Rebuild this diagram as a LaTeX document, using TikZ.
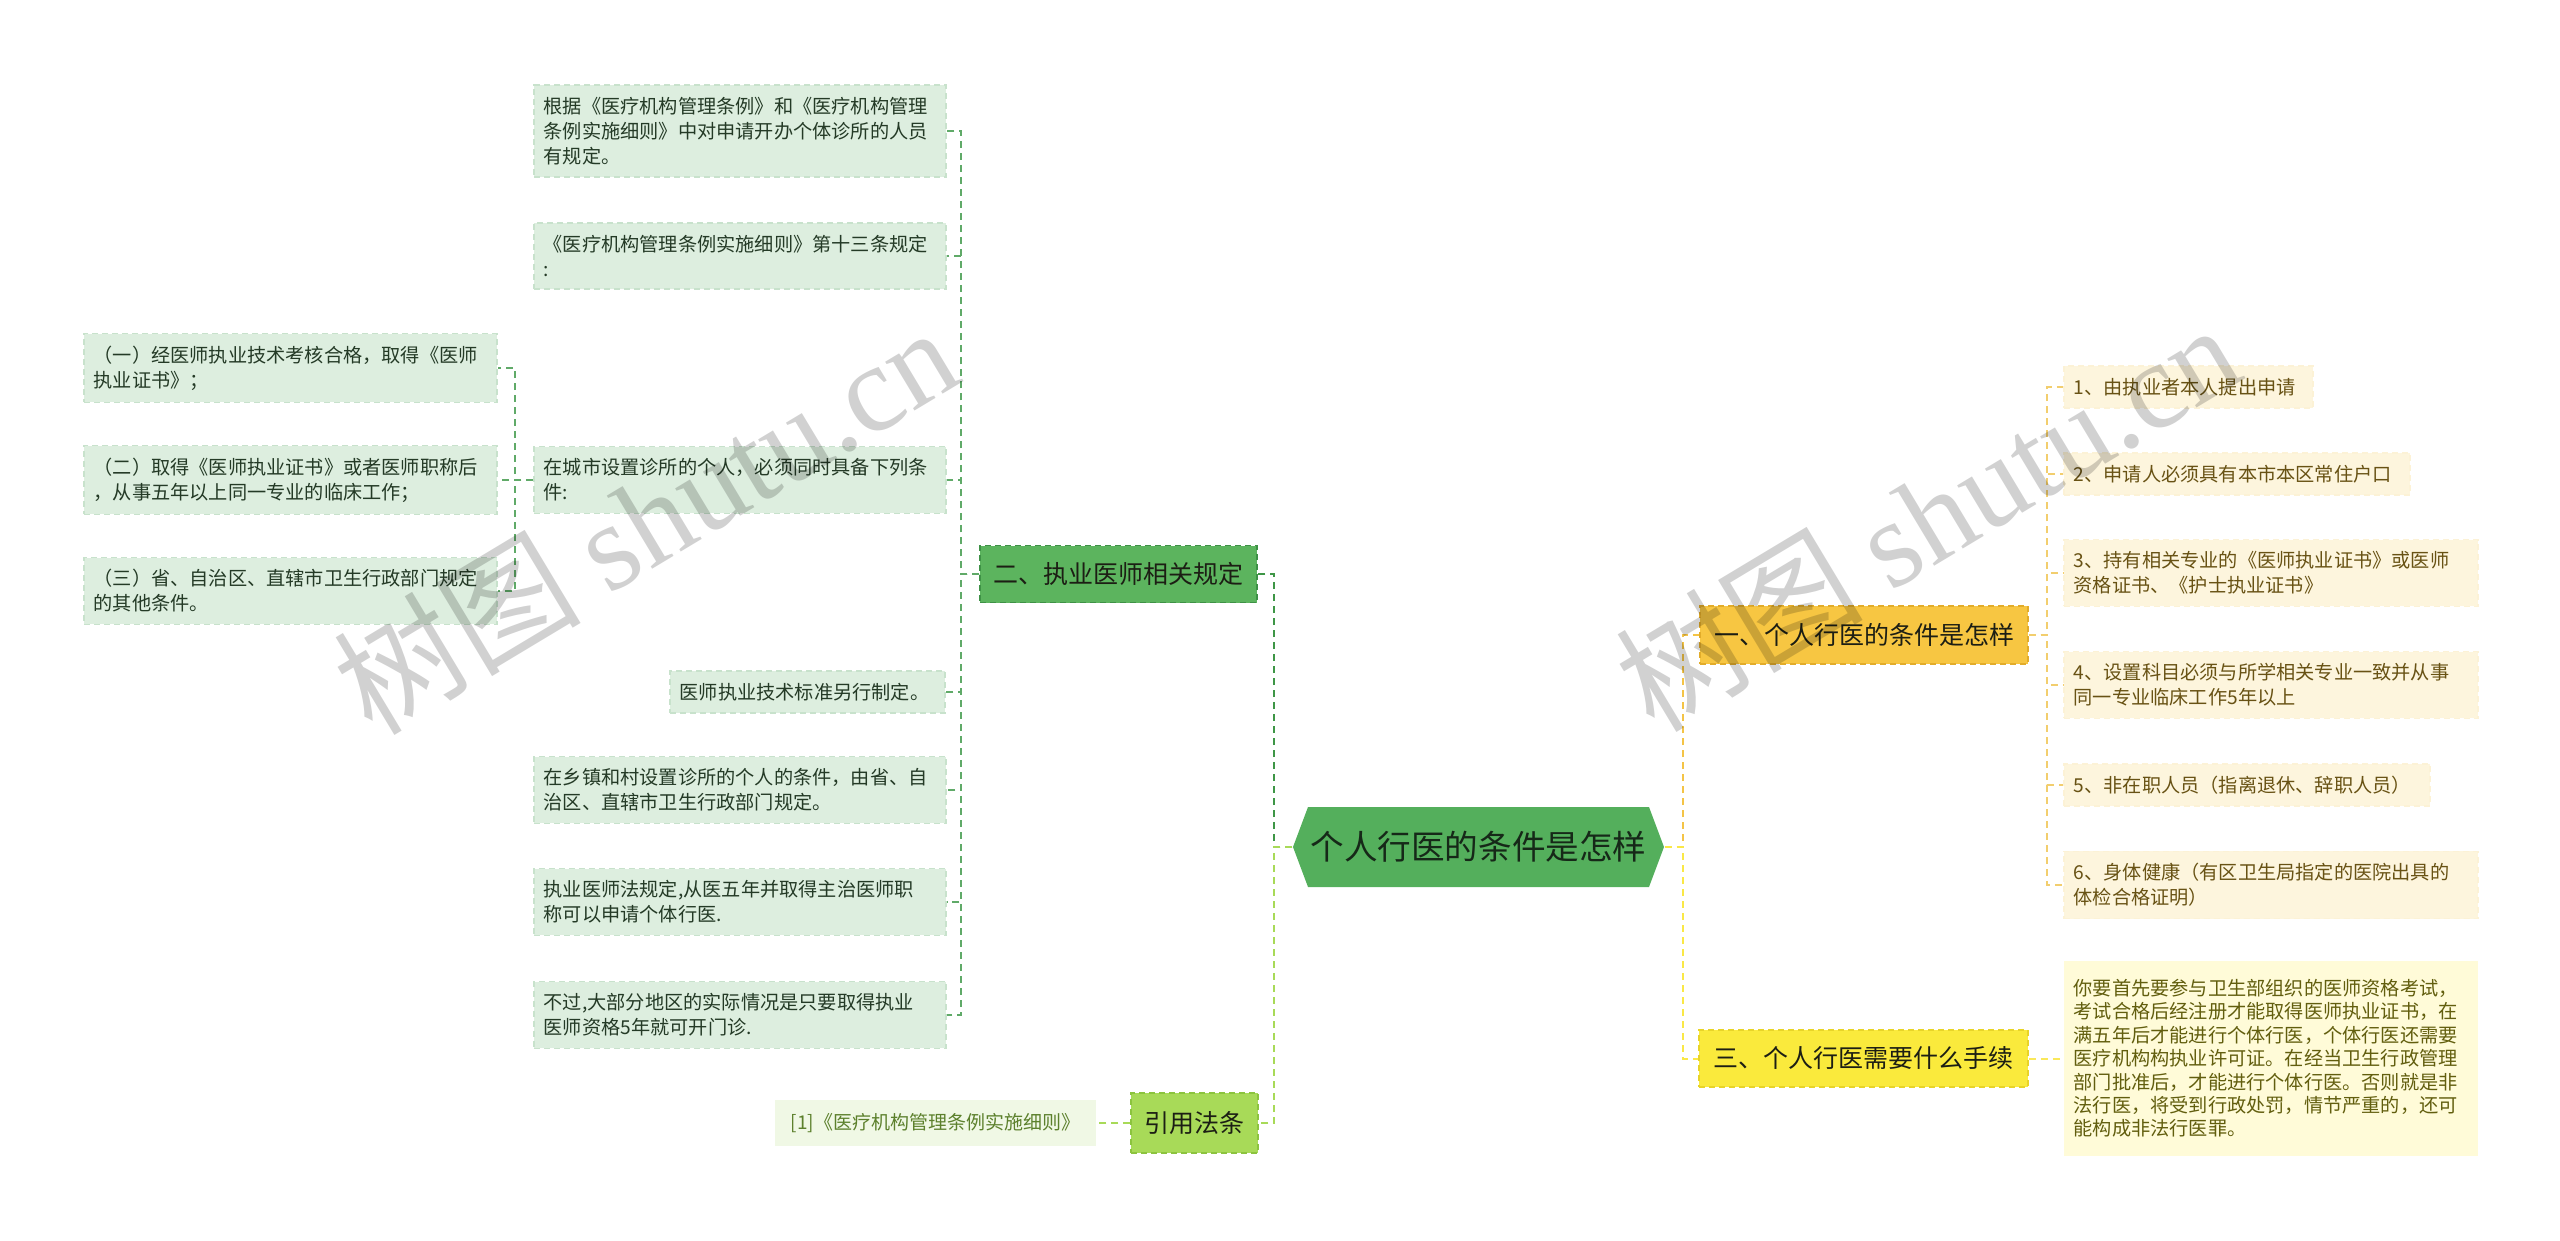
\documentclass[tikz,border=0pt]{standalone}
\usepackage{fontspec}
\setmainfont{Noto Sans CJK SC}
\newfontfamily\wmlatin{Liberation Serif}

\tikzset{every picture/.style={line width=0.75pt}}
\tikzset{
  rootnode/.style={rectangle, minimum width=185.5pt, minimum height=40pt, inner sep=0pt, font=\fontsize{16.8}{20}\selectfont, text={rgb,255:red,22;green,40;blue,24},
    path picture={\fill [fill={rgb,255:red,84;green,175;blue,92}] (path picture bounding box.west) -- ([xshift=7.5pt]path picture bounding box.north west) -- ([xshift=-7.5pt]path picture bounding box.north east) -- (path picture bounding box.east) -- ([xshift=-7.5pt]path picture bounding box.south east) -- ([xshift=7.5pt]path picture bounding box.south west) -- cycle;}},
  branch/.style={rectangle, inner sep=0pt, align=center, dash pattern=on 3pt off 2pt, font=\fontsize{12.5}{15}\selectfont, text={rgb,255:red,28;green,30;blue,20}},
  greenbr/.style={branch, fill={rgb,255:red,92;green,180;blue,94}, draw={rgb,255:red,62;green,145;blue,70}},
  limebr/.style={branch, fill={rgb,255:red,168;green,218;blue,88}, draw={rgb,255:red,140;green,196;blue,62}},
  amberbr/.style={branch, fill={rgb,255:red,247;green,198;blue,66}, draw={rgb,255:red,226;green,172;blue,42}},
  yellowbr/.style={branch, fill={rgb,255:red,250;green,234;blue,60}, draw={rgb,255:red,232;green,212;blue,40}},
  leafg/.style={rectangle, anchor=west, align=left, inner xsep=5pt, inner ysep=6pt, dash pattern=on 3pt off 2pt, fill={rgb,255:red,221;green,238;blue,223}, draw={rgb,255:red,200;green,226;blue,204}, text={rgb,255:red,36;green,58;blue,38}, font=\fontsize{9.6}{12.5}\selectfont},
  leafy/.style={rectangle, anchor=west, align=left, inner xsep=5pt, inner ysep=6pt, fill={rgb,255:red,253;green,245;blue,221}, draw={rgb,255:red,252;green,242;blue,214}, dash pattern=on 3pt off 2pt, text={rgb,255:red,104;green,82;blue,20}, font=\fontsize{9.6}{12.5}\selectfont},
  leafl/.style={rectangle, inner sep=0pt, fill={rgb,255:red,240;green,248;blue,229}, text={rgb,255:red,92;green,128;blue,44}, font=\fontsize{9.5}{12}\selectfont},
  link/.style={line width=1pt, dash pattern=on 3.5pt off 2.5pt},
  wmark/.style={rotate=31, text=black, text opacity=0.18, font=\fontsize{62}{62}\selectfont, inner sep=0pt}
}

\begin{document}
\begin{tikzpicture}[x=0.5pt,y=0.5pt,yscale=-1,xscale=1]
\useasboundingbox (0,0) rectangle (2560,1241); %set diagram size 2560 x 1241

%Shape: Hexagon (root)
\node (root) at (1478.5,847) [rootnode] {个人行医的条件是怎样};

% Branch Nodes
\node (b2) at (1118.5,574) [greenbr, minimum width=138.5pt, minimum height=28.5pt] {二、执业医师相关规定};
\node (b4) at (1194.5,1123) [limebr, minimum width=63.5pt, minimum height=30pt] {引用法条};
\node (b1) at (1864,635) [amberbr, minimum width=164pt, minimum height=29pt] {一、个人行医的条件是怎样};
\node (b3) at (1863.5,1058.5) [yellowbr, minimum width=164.5pt, minimum height=28.5pt] {三、个人行医需要什么手续};

% Text Node
\node (g1) at (533,131) [leafg, text width=196pt] {根据《医疗机构管理条例》和《医疗机构管理\\条例实施细则》中对申请开办个体诊所的人员\\有规定。};
% Text Node
\node (g2) at (533,256) [leafg, text width=196pt] {《医疗机构管理条例实施细则》第十三条规定\\:};
% Text Node
\node (g3) at (533,480) [leafg, text width=196pt] {在城市设置诊所的个人，必须同时具备下列条\\件:};
% Text Node
\node (g4) at (669,692) [leafg, text width=127.5pt] {医师执业技术标准另行制定。};
% Text Node
\node (g5) at (533,790) [leafg, text width=196pt] {在乡镇和村设置诊所的个人的条件，由省、自\\治区、直辖市卫生行政部门规定。};
% Text Node
\node (g6) at (533,902) [leafg, text width=196pt] {执业医师法规定,从医五年并取得主治医师职\\称可以申请个体行医.};
% Text Node
\node (g7) at (533,1015) [leafg, text width=196pt] {不过,大部分地区的实际情况是只要取得执业\\医师资格5年就可开门诊.};

% Text Node
\node (h1) at (83,368) [leafg, text width=196.5pt] {（一）经医师执业技术考核合格，取得《医师\\执业证书》；};
% Text Node
\node (h2) at (83,480) [leafg, text width=196.5pt] {（二）取得《医师执业证书》或者医师职称后\\，从事五年以上同一专业的临床工作；};
% Text Node
\node (h3) at (83,591) [leafg, text width=196.5pt] {（三）省、自治区、直辖市卫生行政部门规定\\的其他条件。};

% Text Node
\node (r1) at (935.5,1123) [leafl, minimum width=160.5pt, minimum height=23pt] {[1]《医疗机构管理条例实施细则》};

% Text Node
\node (y1) at (2063,387) [leafy, text width=114.5pt] {1、由执业者本人提出申请};
% Text Node
\node (y2) at (2063,474) [leafy, text width=163pt] {2、申请人必须具有本市本区常住户口};
% Text Node
\node (y3) at (2063,573) [leafy, text width=197pt] {3、持有相关专业的《医师执业证书》或医师\\资格证书、《护士执业证书》};
% Text Node
\node (y4) at (2063,685) [leafy, text width=197pt] {4、设置科目必须与所学相关专业一致并从事\\同一专业临床工作5年以上};
% Text Node
\node (y5) at (2063,785) [leafy, text width=173pt] {5、非在职人员（指离退休、辞职人员）};
% Text Node
\node (y6) at (2063,885) [leafy, text width=197pt] {6、身体健康（有区卫生局指定的医院出具的\\体检合格证明）};
% Text Node
\node (y7) at (2063,1058.5) [leafy, text width=197pt, inner ysep=9pt, draw=none, fill={rgb,255:red,255;green,251;blue,216}, text={rgb,255:red,98;green,94;blue,14}, font=\fontsize{9.6}{11.7}\selectfont] {你要首先要参与卫生部组织的医师资格考试，\\考试合格后经注册才能取得医师执业证书，在\\满五年后才能进行个体行医，个体行医还需要\\医疗机构构执业许可证。在经当卫生行政管理\\部门批准后，才能进行个体行医。否则就是非\\法行医，将受到行政处罚，情节严重的，还可\\能构成非法行医罪。};

%Straight Lines: root to branches
\draw [link, draw={rgb,255:red,62;green,150;blue,70}] (root.west) -- ++(-18,0) |- (b2.east);
\draw [link, draw={rgb,255:red,168;green,218;blue,88}] (root.west) -- ++(-18,0) |- (b4.east);
\draw [link, draw={rgb,255:red,244;green,196;blue,70}] (root.east) -- ++(18,0) |- (b1.west);
\draw [link, draw={rgb,255:red,250;green,232;blue,70}] (root.east) -- ++(18,0) |- (b3.west);

%Straight Lines: branch two
\foreach \n in {g1,g2,g3,g4,g5,g6,g7}
  \draw [link, draw={rgb,255:red,96;green,170;blue,104}] (b2.west) -- ++(-18,0) |- (\n.east);
\foreach \n in {h1,h2,h3}
  \draw [link, draw={rgb,255:red,96;green,170;blue,104}] (g3.west) -- ++(-18,0) |- (\n.east);

%Straight Lines: branch four
\draw [link, draw={rgb,255:red,168;green,218;blue,88}] (b4.west) -- (r1.east);

%Straight Lines: branch one and three
\foreach \n in {y1,y2,y3,y4,y5,y6}
  \draw [link, draw={rgb,255:red,242;green,206;blue,110}] (b1.east) -- ++(18,0) |- (\n.west);
\draw [link, draw={rgb,255:red,250;green,232;blue,90}] (b3.east) -- (y7.west);

% Watermark
\node (wm1) at (645,519) [wmark] {树图 {\wmlatin shutu.cn}};
\node (wm2) at (1927,516) [wmark] {树图 {\wmlatin shutu.cn}};

\end{tikzpicture}
\end{document}
